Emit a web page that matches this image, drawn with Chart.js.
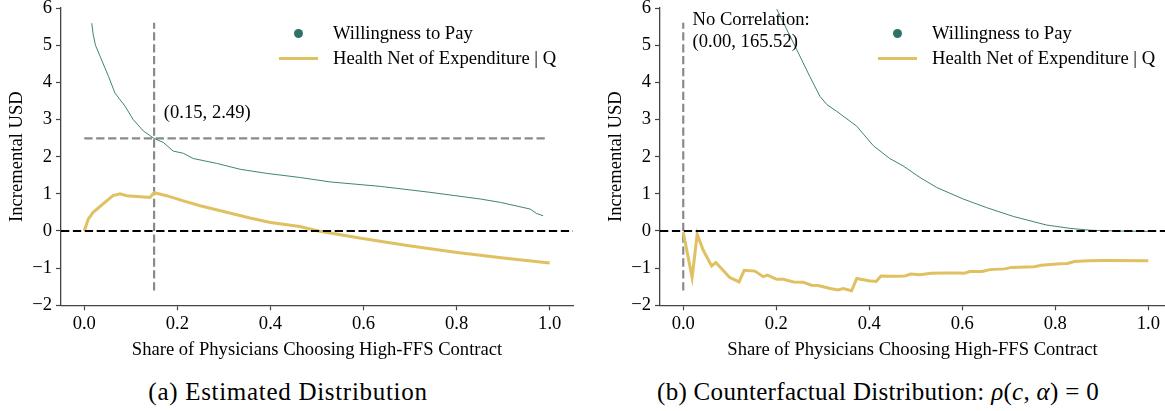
<!DOCTYPE html>
<html>
<head>
<meta charset="utf-8">
<script src="https://cdn.jsdelivr.net/npm/chart.js@4.4.0/dist/chart.umd.min.js"></script>
<style>
  html, body { margin: 0; padding: 0; width: 1165px; height: 411px; overflow: hidden; background: #fff; }
  body { position: relative; font-family: "Liberation Serif", "Times New Roman", serif; color: #000; }
  canvas { position: absolute; top: 0; }
  #chartA { left: 0; }
  #chartB { left: 599px; }
  .leg { position: absolute; font-size: 18.6px; line-height: 22px; height: 22px; white-space: nowrap; }
  .dot { position: absolute; width: 9px; height: 9px; border-radius: 50%; background: #2d7468; }
  .seg { position: absolute; height: 3px; background: #dfc162; }
  .cap { position: absolute; top: 377px; font-family: "Liberation Serif", serif; font-size: 25px; line-height: 30px; white-space: nowrap; transform: translateX(-50%); }
  #capA { left: 288px; letter-spacing: 0.7px; }
  #capB { left: 878px; letter-spacing: 0.3px; }
</style>
</head>
<body>
<canvas id="chartA" width="580" height="365"></canvas>
<canvas id="chartB" width="566" height="365"></canvas>

<!-- legends -->
<div class="dot" style="left:293.5px; top:28.5px;"></div>
<div class="leg" style="left:333px; top:22px;">Willingness to Pay</div>
<div class="seg" style="left:279px; width:39px; top:56.5px;"></div>
<div class="leg" style="left:333px; top:47px;">Health Net of Expenditure | Q</div>

<div class="dot" style="left:893px; top:28.5px;"></div>
<div class="leg" style="left:932px; top:22px;">Willingness to Pay</div>
<div class="seg" style="left:878px; width:39px; top:56.5px;"></div>
<div class="leg" style="left:932px; top:47px;">Health Net of Expenditure | Q</div>

<!-- panel captions -->
<div class="cap" id="capA">(a) Estimated Distribution</div>
<div class="cap" id="capB">(b) Counterfactual Distribution: <i>ρ</i>(<i>c</i>, <i>α</i>) = 0</div>

<script>
// Shared tick values
const xTicks = [0.0, 0.2, 0.4, 0.6, 0.8, 1.0];
const yTicks = [-2, -1, 0, 1, 2, 3, 4, 5, 6];

// (a) Estimated distribution
const wtpA_x = [0.016, 0.019, 0.024, 0.034, 0.052, 0.066, 0.0875, 0.105, 0.127, 0.15, 0.17, 0.191, 0.213, 0.234, 0.284, 0.335, 0.392, 0.463, 0.528, 0.636, 0.743, 0.851, 0.894, 0.958, 0.972, 0.986];
const wtpA_y = [5.59, 5.30, 5.00, 4.70, 4.16, 3.71, 3.36, 3.00, 2.69, 2.49, 2.38, 2.15, 2.09, 1.95, 1.82, 1.66, 1.55, 1.44, 1.32, 1.20, 1.04, 0.86, 0.77, 0.59, 0.47, 0.41];
const hneA_x = [0.0, 0.0086, 0.019, 0.048, 0.062, 0.077, 0.091, 0.113, 0.141, 0.15, 0.177, 0.213, 0.249, 0.284, 0.356, 0.40, 0.463, 0.503, 0.598, 0.694, 0.797, 0.90, 1.0];
const hneA_y = [0.0, 0.32, 0.50, 0.81, 0.95, 1.00, 0.95, 0.93, 0.90, 1.03, 0.95, 0.81, 0.68, 0.57, 0.35, 0.23, 0.12, 0.0, -0.20, -0.39, -0.57, -0.73, -0.86];
const cutA = { x: 0.15, y: 2.49 };

// (b) Counterfactual distribution, rho(c, alpha) = 0
const wtpB_x = [0.201, 0.244, 0.272, 0.294, 0.309, 0.33, 0.373, 0.409, 0.444, 0.473, 0.509, 0.545, 0.602, 0.652, 0.71, 0.781, 0.832, 0.875, 0.93, 1.0];
const wtpB_y = [5.97, 4.88, 4.16, 3.62, 3.40, 3.22, 2.82, 2.29, 1.95, 1.75, 1.44, 1.17, 0.86, 0.63, 0.39, 0.16, 0.07, 0.02, 0.0, -0.01];
const hneB_x = [0.0, 0.019, 0.030, 0.043, 0.061, 0.070, 0.100, 0.120, 0.131, 0.154, 0.172, 0.181, 0.201, 0.215, 0.237, 0.258, 0.276, 0.290, 0.316, 0.333, 0.344, 0.362, 0.373, 0.399, 0.415, 0.425, 0.454, 0.477, 0.489, 0.509, 0.533, 0.565, 0.588, 0.604, 0.616, 0.643, 0.659, 0.691, 0.706, 0.754, 0.77, 0.81, 0.826, 0.841, 0.872, 0.904, 1.0];
const hneB_y = [-0.03, -1.25, -0.09, -0.52, -0.94, -0.85, -1.25, -1.37, -1.06, -1.08, -1.23, -1.19, -1.30, -1.30, -1.37, -1.38, -1.46, -1.47, -1.55, -1.59, -1.55, -1.61, -1.28, -1.34, -1.36, -1.21, -1.22, -1.21, -1.16, -1.18, -1.14, -1.13, -1.13, -1.14, -1.09, -1.09, -1.04, -1.02, -0.98, -0.96, -0.92, -0.88, -0.875, -0.82, -0.80, -0.795, -0.80];
const cutB = { x: 0.0, y: 165.52 };

const TEAL = '#2d7468';
const GOLD = '#dfc162';
const REF_GRAY = '#8a8a8a';
const SPINE = '#444444';
const FONT = { family: '"Liberation Serif", "Times New Roman", serif', size: 18.6 };
const DASH = [8.3, 3.6];

const zip = (xs, ys) => xs.map((x, i) => ({ x, y: ys[i] }));
const fmtX = v => Number(v).toFixed(1);
const fmtY = v => (v < 0 ? '\u2212' + Math.abs(v) : String(v));

// Text notes placed in data coordinates
const notesPlugin = {
  id: 'notes',
  afterDatasetsDraw(chart, args, opts) {
    const { ctx, scales: { x, y } } = chart;
    ctx.save();
    ctx.font = `${FONT.size}px ${FONT.family}`;
    ctx.fillStyle = '#000';
    ctx.textBaseline = 'middle';
    ctx.textAlign = 'left';
    (opts.items || []).forEach(n => ctx.fillText(n.text, x.getPixelForValue(n.x), y.getPixelForValue(n.y)));
    ctx.restore();
  }
};

function lineSet(points, color, width, order, dash) {
  return {
    data: points, showLine: true, borderColor: color, backgroundColor: color,
    borderWidth: width, pointRadius: 0, pointHoverRadius: 0, tension: 0,
    borderDash: dash || [], order: order
  };
}

function makePanel(canvasId, opt) {
  return new Chart(document.getElementById(canvasId), {
    type: 'scatter',
    data: { datasets: opt.datasets },
    plugins: [notesPlugin],
    options: {
      responsive: false,
      animation: false,
      devicePixelRatio: 1,
      layout: { padding: { top: 8, right: opt.padRight, left: 0, bottom: 0 } },
      plugins: { legend: { display: false }, tooltip: { enabled: false }, notes: { items: opt.notes } },
      scales: {
        x: {
          type: 'linear', min: -0.05, max: opt.xMax,
          afterBuildTicks: s => { s.ticks = xTicks.map(v => ({ value: v })); },
          afterFit: s => { s.height = 59.7; s.paddingLeft = 0; s.paddingRight = 0; s.paddingTop = 0; s.paddingBottom = 0; },
          ticks: { callback: fmtX, font: FONT, color: '#000', padding: 3, maxRotation: 0, autoSkip: false },
          grid: { drawOnChartArea: false, drawTicks: true, tickLength: 5, tickColor: SPINE, tickWidth: 1.2 },
          border: { display: true, color: SPINE, width: 1.3 },
          title: { display: true, text: 'Share of Physicians Choosing High-FFS Contract', font: FONT, color: '#000', padding: { top: 0, bottom: 4 } }
        },
        y: {
          type: 'linear', min: -2, max: 6,
          afterBuildTicks: s => { s.ticks = yTicks.map(v => ({ value: v })); },
          afterFit: s => { s.width = 61; s.paddingLeft = 0; s.paddingRight = 0; s.paddingTop = 0; s.paddingBottom = 0; },
          ticks: { callback: fmtY, font: FONT, color: '#000', padding: 4, autoSkip: false },
          grid: { drawOnChartArea: false, drawTicks: true, tickLength: 5, tickColor: SPINE, tickWidth: 1.2 },
          border: { display: true, color: SPINE, width: 1.3 },
          title: { display: true, text: 'Incremental USD', font: FONT, color: '#000', padding: { top: 6, bottom: 0 } }
        }
      }
    }
  });
}

makePanel('chartA', {
  xMax: 1.05, padRight: 7,
  datasets: [
    lineSet([{ x: -0.05, y: 0 }, { x: 1.05, y: 0 }], '#000', 2.2, 0, DASH),
    lineSet(zip(hneA_x, hneA_y), GOLD, 3, 1),
    lineSet(zip(wtpA_x, wtpA_y), TEAL, 0.9, 2),
    lineSet([{ x: cutA.x, y: -1.6 }, { x: cutA.x, y: 5.6 }], REF_GRAY, 2.2, 3, DASH),
    lineSet([{ x: 0.0, y: cutA.y }, { x: 0.995, y: cutA.y }], REF_GRAY, 2.2, 3, DASH)
  ],
  notes: [{ text: `(${cutA.x.toFixed(2)}, ${cutA.y.toFixed(2)})`, x: 0.171, y: 3.16 }]
});

makePanel('chartB', {
  xMax: 1.0359, padRight: 0,
  datasets: [
    lineSet([{ x: -0.05, y: 0 }, { x: 1.05, y: 0 }], '#000', 2.2, 0, DASH),
    lineSet(zip(hneB_x, hneB_y), GOLD, 3, 1),
    lineSet(zip(wtpB_x, wtpB_y), TEAL, 0.9, 2),
    lineSet([{ x: cutB.x, y: -1.6 }, { x: cutB.x, y: 5.6 }], REF_GRAY, 2.2, 3, DASH)
  ],
  notes: [
    { text: 'No Correlation:', x: 0.02, y: 5.68 },
    { text: `(${cutB.x.toFixed(2)}, ${cutB.y.toFixed(2)})`, x: 0.02, y: 5.09 }
  ]
});
</script>
</body>
</html>
